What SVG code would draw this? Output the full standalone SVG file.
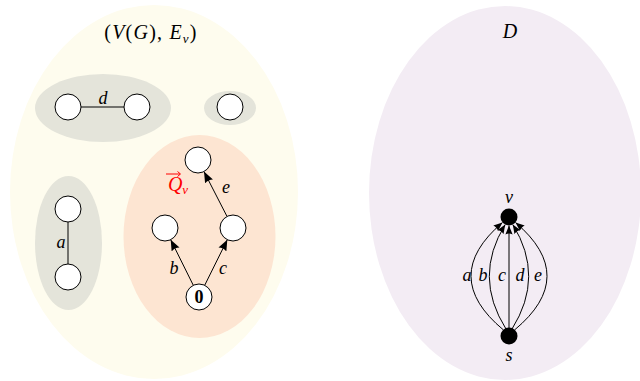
<svg xmlns="http://www.w3.org/2000/svg" width="640" height="381" viewBox="0 0 640 381">
<style>
.n{fill:#fff;stroke:#000;stroke-width:1}
.e{fill:none;stroke:#000;stroke-width:1}
.t{font-family:"Liberation Serif","DejaVu Serif",serif;font-style:italic;font-size:18px;fill:#000;text-anchor:middle}
.big{font-size:20px}
.s{font-size:13px}
.u{font-style:normal}
.dot{fill:#000}
</style>
<defs>
<marker id="ah" markerUnits="userSpaceOnUse" viewBox="0 0 10 8" markerWidth="11" markerHeight="9" refX="10" refY="4" orient="auto">
<path d="M0,0 Q2,4 0,8 L10,4 z" fill="#000"/>
</marker>
<marker id="ah2" markerUnits="userSpaceOnUse" viewBox="0 0 10 8" markerWidth="9" markerHeight="8" refX="10" refY="4" orient="auto">
<path d="M0,0 Q2,4 0,8 L10,4 z" fill="#000"/>
</marker>
</defs>
<g id="regions">
<ellipse cx="154" cy="192" rx="144" ry="187" fill="#fefcee"/>
<ellipse cx="103" cy="108" rx="68" ry="34" fill="#e4e4da"/>
<ellipse cx="230" cy="108" rx="26" ry="17" fill="#e4e4da"/>
<ellipse cx="68.5" cy="243" rx="33.5" ry="67" fill="#e4e4da"/>
<ellipse cx="199.5" cy="236.5" rx="76" ry="101.5" fill="#fde5d2"/>
<ellipse cx="505" cy="193" rx="136" ry="187" fill="#f3ecf4"/>
</g>
<g id="connectors">
<line class="e" x1="81" y1="107" x2="124" y2="107"/>
<line class="e" x1="68" y1="222" x2="68" y2="264"/>
<line class="e" x1="193.3" y1="285.3" x2="170.7" y2="239.7" marker-end="url(#ah)"/>
<line class="e" x1="204.7" y1="285.3" x2="227.3" y2="239.7" marker-end="url(#ah)"/>
<line class="e" x1="227" y1="216.4" x2="204" y2="171.6" marker-end="url(#ah)"/>
<path class="e" d="M503.5,330 Q439,276.5 502.5,222.5" marker-end="url(#ah2)"/>
<path class="e" d="M506,329 Q473,276.5 505.2,224.6" marker-end="url(#ah2)"/>
<line class="e" x1="509" y1="328" x2="509" y2="225.5" marker-end="url(#ah2)"/>
<path class="e" d="M512,329 Q545,276.5 512.8,224.6" marker-end="url(#ah2)"/>
<path class="e" d="M514.5,330 Q579,276.5 515.5,222.5" marker-end="url(#ah2)"/>
</g>
<g id="labels">
<text class="t big" x="151" y="39" style="letter-spacing:1.2px"><tspan class="u">(</tspan>V<tspan class="u">(</tspan>G<tspan class="u">), </tspan>E<tspan class="s" dy="4">v</tspan><tspan class="u" dy="-4">)</tspan></text>
<text class="t" x="103" y="104">d</text>
<text class="t" x="61" y="248">a</text>
<text class="t" x="174" y="274">b</text>
<text class="t" x="223" y="274">c</text>
<text class="t" x="226" y="193">e</text>
<g id="qv-label">
<text class="t big" x="178" y="191" style="fill:#ff0000">Q<tspan class="s" dy="3">v</tspan></text>
<line x1="166" y1="174" x2="180" y2="174" stroke="#ff0000" stroke-width="1"/>
<path d="M177.5,171.5 L180.5,174 L177.5,176.5" fill="none" stroke="#ff0000" stroke-width="1"/>
</g>
<text class="t big" x="510" y="38">D</text>
<text class="t" x="509" y="203">v</text>
<text class="t" x="509" y="361">s</text>
<text class="t" x="467" y="281">a</text>
<text class="t" x="483" y="281">b</text>
<text class="t" x="502" y="281">c</text>
<text class="t" x="520" y="281">d</text>
<text class="t" x="538" y="281">e</text>
</g>
<g id="node-d1"><circle class="n" cx="68" cy="107" r="13"/></g>
<g id="node-d2"><circle class="n" cx="137" cy="107" r="13"/></g>
<g id="node-iso"><circle class="n" cx="230" cy="107" r="13"/></g>
<g id="node-a1"><circle class="n" cx="68" cy="209" r="13"/></g>
<g id="node-a2"><circle class="n" cx="68" cy="277" r="13"/></g>
<g id="node-top"><circle class="n" cx="198" cy="160" r="13"/></g>
<g id="node-left"><circle class="n" cx="165" cy="228" r="13"/></g>
<g id="node-right"><circle class="n" cx="233" cy="228" r="13"/></g>
<g id="node-zero"><circle class="n" cx="199" cy="297" r="13"/><text x="199" y="303" font-family="Liberation Serif, serif" font-weight="bold" font-size="18" text-anchor="middle">0</text></g>
<g id="node-v"><circle class="dot" cx="509" cy="217" r="8.5"/></g>
<g id="node-s"><circle class="dot" cx="509" cy="336" r="8.5"/></g>
</svg>
